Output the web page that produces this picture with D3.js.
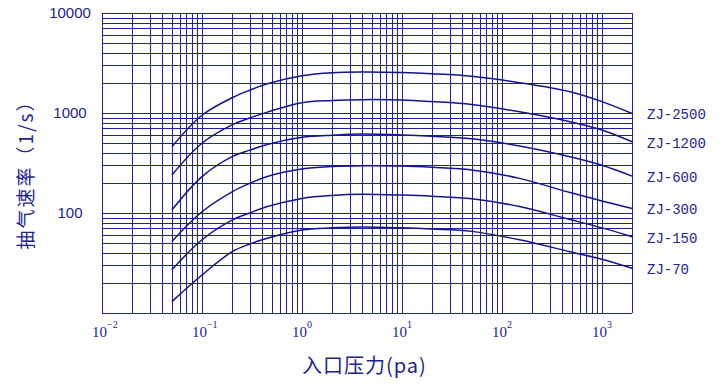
<!DOCTYPE html>
<html>
<head>
<meta charset="utf-8">
<script src="https://cdn.jsdelivr.net/npm/d3@7"></script>
<style>
  body { margin: 0; background: #fff; }
  svg { display: block; }
</style>
</head>
<body>
<svg id="chart" width="720" height="384"></svg>
<script>
// pressure (pa) / pumping speed (l/s)
const pressure = [0.05, 0.1, 0.2, 0.3, 0.45, 1, 2, 4, 10, 20, 50, 150, 480, 1000, 2000];

const zj2500 = [460, 950, 1420, 1690, 1960, 2360, 2530, 2570, 2540, 2470, 2330, 2010, 1630, 1300, 990];
const zj1200 = [240, 498, 760, 890, 1020, 1268, 1335, 1360, 1349, 1300, 1215, 1028, 818, 676, 516];
const zj600  = [107, 231, 366, 425, 485, 571, 600, 615, 603, 585, 552, 468, 365, 300, 234];
const zj300  = [52, 103, 163, 198, 232, 275, 291, 297, 295, 286, 269, 222, 160, 132, 111];
const zj150  = [27, 54, 85, 100, 116, 140, 150, 154, 151, 147, 139, 116, 86, 71, 58];
const zj70   = [13, 24, 41, 49, 56, 67.6, 71, 72.5, 71, 69, 65.5, 54, 41, 34.5, 28];

const seriesNames = ['ZJ-2500', 'ZJ-1200', 'ZJ-600', 'ZJ-300', 'ZJ-150', 'ZJ-70'];
const seriesValues = [zj2500, zj1200, zj600, zj300, zj150, zj70];

const xExponents = [-2, -1, 0, 1, 2, 3];
const yTickValues = [10000, 1000, 100];

const xTitle = '入口压力(pa)';
const yTitle = '抽气速率（1/s）';

const blue = '#1f1fa8';
const textBlue = '#23238f';

const svg = d3.select('#chart');

const x = d3.scaleLog().domain([0.01, 2000]).range([102, 632]);
const y = d3.scaleLog().domain([10, 10000]).range([313, 13]);

// log grid values
const xGrid = [];
for (let d = -2; d <= 3; d++) {
  for (let k = 1; k <= 9; k++) {
    const v = k * Math.pow(10, d);
    if (v <= 2000 + 1e-9) xGrid.push(v);
  }
}
const yGrid = [];
for (let d = 1; d <= 3; d++) {
  for (let k = 1; k <= 9; k++) yGrid.push(k * Math.pow(10, d));
}
yGrid.push(10000);

const grid = svg.append('g').attr('stroke', blue).attr('stroke-width', 1).attr('shape-rendering', 'crispEdges');

grid.selectAll('line.v')
  .data(xGrid)
  .join('line')
  .attr('class', 'v')
  .attr('x1', d => Math.round(x(d)) + 0.5)
  .attr('x2', d => Math.round(x(d)) + 0.5)
  .attr('y1', y(10000))
  .attr('y2', y(10));

grid.selectAll('line.h')
  .data(yGrid)
  .join('line')
  .attr('class', 'h')
  .attr('y1', d => Math.round(y(d)) + 0.5)
  .attr('y2', d => Math.round(y(d)) + 0.5)
  .attr('x1', x(0.01))
  .attr('x2', x(2000));

// curves
const line = d3.line()
  .x((d, i) => x(pressure[i]))
  .y(d => y(d))
  .curve(d3.curveCatmullRom.alpha(0.5));

svg.append('g')
  .selectAll('path')
  .data(seriesValues)
  .join('path')
  .attr('fill', 'none')
  .attr('stroke', '#14148c')
  .attr('stroke-width', 1.5)
  .attr('d', line);

// series labels at right end
svg.append('g')
  .selectAll('text')
  .data(seriesNames)
  .join('text')
  .attr('x', 647)
  .attr('y', (d, i) => y(seriesValues[i][seriesValues[i].length - 1]) + 2)
  .attr('dominant-baseline', 'central')
  .attr('font-family', '"Liberation Mono", "DejaVu Sans Mono", monospace')
  .attr('font-size', 14)
  .attr('fill', textBlue)
  .text(d => d);

// y tick labels
svg.append('g')
  .selectAll('text')
  .data(yTickValues)
  .join('text')
  .attr('x', 70)
  .attr('y', d => y(d))
  .attr('dy', '0.36em')
  .attr('text-anchor', 'middle')
  .attr('font-family', '"Liberation Sans", Arial, sans-serif')
  .attr('font-size', 15)
  .attr('fill', textBlue)
  .text(d => d);

// x tick labels: 10 with superscript exponent
const xLab = svg.append('g')
  .selectAll('text')
  .data(xExponents)
  .join('text')
  .attr('x', d => x(Math.pow(10, d)) - 10)
  .attr('y', 337)
  .attr('font-family', '"Liberation Serif", "Times New Roman", serif')
  .attr('font-size', 15)
  .attr('fill', textBlue);
xLab.append('tspan').text('10');
xLab.append('tspan')
  .attr('dy', -9)
  .attr('font-size', 10)
  .text(d => d < 0 ? '\u2212' + (-d) : d);

// axis titles
svg.append('text')
  .attr('x', 302)
  .attr('y', 373)
  .attr('font-family', '"Noto Sans CJK SC", sans-serif')
  .attr('font-size', 20)
  .attr('letter-spacing', 1)
  .attr('fill', textBlue)
  .text(xTitle);

svg.append('text')
  .attr('transform', 'translate(24,170) rotate(-90)')
  .attr('text-anchor', 'middle')
  .attr('dominant-baseline', 'central')
  .attr('font-family', '"Noto Sans CJK SC", sans-serif')
  .attr('font-size', 19)
  .attr('letter-spacing', 2)
  .attr('fill', textBlue)
  .text(yTitle);
</script>
</body>
</html>
